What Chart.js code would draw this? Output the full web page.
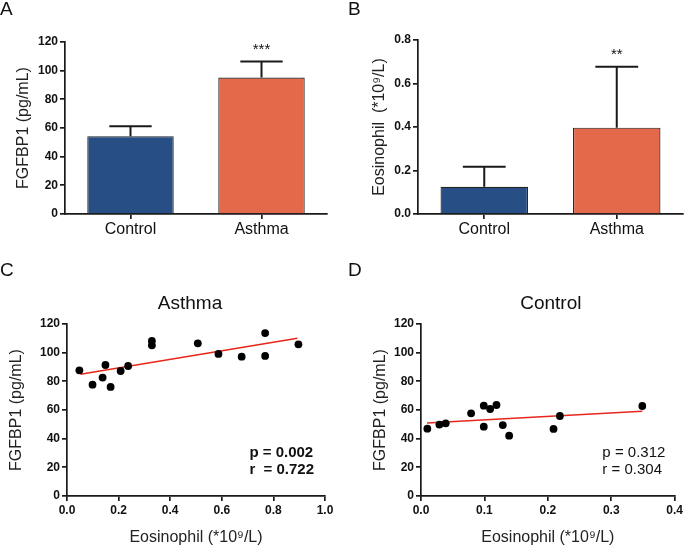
<!DOCTYPE html>
<html><head><meta charset="utf-8">
<script src="https://cdn.jsdelivr.net/npm/chart.js@4"></script>
<style>
html,body{margin:0;padding:0;background:#fff;}
#wrap{position:relative;width:685px;height:546px;overflow:hidden;background:#fff;font-family:'Liberation Sans',Arial,sans-serif;}
canvas{position:absolute;}
.lbl{position:absolute;font-size:19px;line-height:19px;color:#111;}
</style></head><body>
<div id="wrap">
<canvas id="cA" width="340" height="270" style="left:0;top:0"></canvas>
<canvas id="cB" width="345" height="270" style="left:340px;top:0"></canvas>
<canvas id="cC" width="340" height="276" style="left:0;top:270px"></canvas>
<canvas id="cD" width="345" height="276" style="left:340px;top:270px"></canvas>
<div class="lbl" style="left:0;top:-1px">A</div>
<div class="lbl" style="left:348px;top:-1px">B</div>
<div class="lbl" style="left:0;top:260px">C</div>
<div class="lbl" style="left:348px;top:260px">D</div>
</div>
<script>
// ---- data ----
const groups = ['Control', 'Asthma'];
const fgfbpMean = [54.3, 95.2];
const fgfbpSD = [6.9, 11.2];
const fgfbpStars = ['', '***'];
const eosMean = [0.125, 0.397];
const eosSD = [0.092, 0.28];
const eosStars = ['', '**'];
const fgfbpTicks = [0, 20, 40, 60, 80, 100, 120];
const eosTicks = [0, 0.2, 0.4, 0.6, 0.8];
const asthmaEosTicks = [0, 0.2, 0.4, 0.6, 0.8, 1.0];
const controlEosTicks = [0, 0.1, 0.2, 0.3, 0.4];

const asthmaEos   = [0.048, 0.099, 0.138, 0.149, 0.169, 0.208, 0.237, 0.329, 0.329, 0.507, 0.587, 0.677, 0.768, 0.768, 0.897];
const asthmaFgfbp = [87.7, 77.7, 82.6, 91.4, 76.1, 87.2, 90.7, 108.2, 105.1, 106.5, 99.1, 97.2, 113.7, 97.7, 105.8];
const asthmaFitX = [0.052, 0.893];
const asthmaFitY = [84.9, 110.0];

const controlEos   = [0.010, 0.029, 0.039, 0.079, 0.099, 0.099, 0.109, 0.119, 0.129, 0.139, 0.209, 0.219, 0.349];
const controlFgfbp = [47.0, 49.8, 50.7, 57.7, 63.0, 48.4, 60.7, 63.5, 49.5, 42.1, 46.8, 55.8, 62.8];
const controlFitX = [0.0094, 0.349];
const controlFitY = [50.9, 59.1];

const asthmaNotes = ['p = 0.002', 'r  = 0.722'];
const controlNotes = ['p = 0.312', 'r = 0.304'];

// ---- styles ----
const FONT = "'Liberation Sans', Arial, sans-serif";
const INK = '#1a1a1a';
const barColors = ['#284f85', '#e4694b'];

function zip(xs, ys) { return xs.map((x, i) => ({ x: x, y: ys[i] })); }

function valueAxis(ticksArr, decimals, width, titleText, titlePad) {
  return {
    type: 'linear', min: ticksArr[0], max: ticksArr[ticksArr.length - 1],
    afterBuildTicks: s => { s.ticks = ticksArr.map(v => ({ value: v })); },
    afterFit: s => { s.width = width; },
    border: { display: true, color: INK, width: 1.7 },
    grid: { display: true, drawOnChartArea: false, drawTicks: true, tickLength: 5, color: INK, lineWidth: 1.7 },
    ticks: { color: '#111', padding: 2, font: { family: FONT, size: 12, weight: 'bold' },
      callback: v => Number(v).toFixed(decimals) },
    title: { display: true, text: titleText, color: '#222', font: { family: FONT, size: 16 },
      padding: { top: titlePad, bottom: 0 } }
  };
}

function barExtras(mean, sd, stars) {
  return {
    id: 'barExtras',
    afterDatasetsDraw(chart) {
      const meta = chart.getDatasetMeta(0);
      const y = chart.scales.y;
      const ctx = chart.ctx;
      ctx.save();
      ctx.strokeStyle = INK; ctx.lineWidth = 2;
      meta.data.forEach((bar, i) => {
        const top = y.getPixelForValue(mean[i] + sd[i]);
        const w = bar.width * 0.49;
        ctx.beginPath();
        ctx.moveTo(bar.x, bar.y); ctx.lineTo(bar.x, top);
        ctx.moveTo(bar.x - w / 2, top); ctx.lineTo(bar.x + w / 2, top);
        ctx.stroke();
        if (stars[i]) {
          ctx.fillStyle = '#111'; ctx.font = '15px ' + FONT;
          ctx.textAlign = 'center'; ctx.textBaseline = 'middle';
          ctx.fillText(stars[i], bar.x, top - 12);
        }
      });
      ctx.restore();
    }
  };
}

function barChart(id, mean, sd, stars, ticksArr, decimals, yTitle, dims) {
  new Chart(document.getElementById(id), {
    type: 'bar',
    data: { labels: groups, datasets: [{ data: mean, backgroundColor: barColors,
      borderColor: '#222', borderWidth: 1.2, borderSkipped: 'start',
      barPercentage: 0.66, categoryPercentage: 1.0 }] },
    options: {
      responsive: false, maintainAspectRatio: false, animation: false, devicePixelRatio: 1,
      layout: { padding: { top: dims.top, right: dims.right, left: 0, bottom: 0 } },
      plugins: { legend: { display: false }, tooltip: { enabled: false } },
      scales: {
        x: {
          type: 'category', offset: true,
          afterFit: s => { s.height = dims.xh; },
          border: { display: true, color: INK, width: 1.7 },
          grid: { display: true, offset: false, drawOnChartArea: false, drawTicks: true, tickLength: 5, color: INK, lineWidth: 1.7 },
          ticks: { color: '#111', padding: 1, font: { family: FONT, size: 16 } }
        },
        y: valueAxis(ticksArr, decimals, dims.yw, yTitle, dims.tp)
      }
    },
    plugins: [barExtras(mean, sd, stars)]
  });
}

function scatterExtras(title, titleDx, notes, noteX, noteY, bold) {
  return {
    id: 'scatterExtras',
    afterDraw(chart) {
      const { ctx, chartArea: a, scales: { x, y } } = chart;
      ctx.save();
      ctx.fillStyle = '#111';
      ctx.font = '19px ' + FONT;
      ctx.textAlign = 'center'; ctx.textBaseline = 'alphabetic';
      ctx.fillText(title, (a.left + a.right) / 2 + titleDx, 39);
      ctx.font = (bold ? 'bold ' : '') + '15px ' + FONT;
      ctx.textAlign = 'left';
      notes.forEach((t, i) => ctx.fillText(t, x.getPixelForValue(noteX), y.getPixelForValue(noteY[i])));
      ctx.restore();
    }
  };
}

function scatterChart(id, xs, ys, fx, fy, xTicks, title, titleDx, notes, noteX, bold, dims) {
  new Chart(document.getElementById(id), {
    type: 'scatter',
    data: { datasets: [
      { type: 'scatter', data: zip(xs, ys), backgroundColor: '#000', borderColor: '#000',
        pointRadius: 3.9, borderWidth: 0, order: 1 },
      { type: 'line', data: zip(fx, fy), borderColor: '#e8261c', borderWidth: 1.6,
        pointRadius: 0, fill: false, showLine: true, order: 2 }
    ] },
    options: {
      responsive: false, maintainAspectRatio: false, animation: false, devicePixelRatio: 1,
      layout: { padding: { top: dims.top, right: dims.right, left: 0, bottom: 0 } },
      plugins: { legend: { display: false }, tooltip: { enabled: false } },
      scales: {
        x: {
          type: 'linear', min: xTicks[0], max: xTicks[xTicks.length - 1],
          afterBuildTicks: s => { s.ticks = xTicks.map(v => ({ value: v })); },
          afterFit: s => { s.height = dims.xh; },
          border: { display: true, color: INK, width: 1.7 },
          grid: { display: true, drawOnChartArea: false, drawTicks: true, tickLength: 5, color: INK, lineWidth: 1.7 },
          ticks: { color: '#111', padding: 2, font: { family: FONT, size: 12, weight: 'bold' },
            callback: v => Number(v).toFixed(1) },
          title: { display: true, text: 'Eosinophil (*10⁹/L)', color: '#222', font: { family: FONT, size: 16 },
            padding: { top: 0, bottom: -1 } }
        },
        y: valueAxis(fgfbpTicks, 0, dims.yw, 'FGFBP1 (pg/mL)', dims.tp)
      }
    },
    plugins: [scatterExtras(title, titleDx, notes, noteX, [27.4, 15.4], bold)]
  });
}

barChart('cA', fgfbpMean, fgfbpSD, fgfbpStars, fgfbpTicks, 0, 'FGFBP1 (pg/mL)',
  { top: 42, right: 13, xh: 56, yw: 65, tp: 14.4 });
barChart('cB', eosMean, eosSD, eosStars, eosTicks, 1, 'Eosinophil  (*10⁹/L)',
  { top: 40, right: 2, xh: 56, yw: 78, tp: 30.4 });
scatterChart('cC', asthmaEos, asthmaFgfbp, asthmaFitX, asthmaFitY, asthmaEosTicks, 'Asthma', -6,
  asthmaNotes, 0.707, true, { top: 54, right: 15, xh: 50, yw: 67, tp: 6.9 });
scatterChart('cD', controlEos, controlFgfbp, controlFitX, controlFitY, controlEosTicks, 'Control', 3,
  controlNotes, 0.286, false, { top: 54, right: 10, xh: 50, yw: 81, tp: 31.4 });
</script>
</body></html>
